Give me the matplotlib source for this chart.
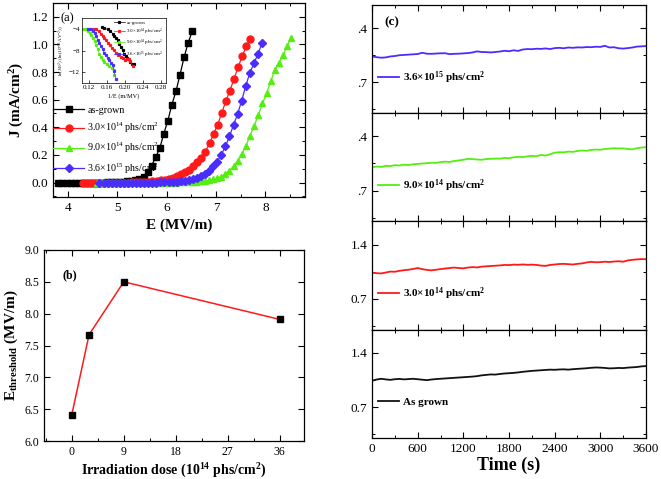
import numpy as np
import matplotlib
matplotlib.use("Agg")
import matplotlib.pyplot as plt
from matplotlib.ticker import MultipleLocator, FixedLocator

plt.rcParams["font.family"] = ["Liberation Serif", "DejaVu Serif"]
plt.rcParams["mathtext.default"] = "regular"
plt.rcParams["xtick.direction"] = "in"
plt.rcParams["ytick.direction"] = "in"
plt.rcParams["axes.linewidth"] = 0.9

# =========================
# data: (a) J-E curves
# =========================
E_GROWN_START, E_GROWN_STEP = 3.81, 0.082
J_grown = [0, 0, 0, 0, 0, 0, 0, 0, 0, 0, 0, 0, 0.001, 0.001, 0.002, 0.003,
           0.005, 0.008, 0.012, 0.018, 0.028, 0.043, 0.075, 0.123, 0.183,
           0.248, 0.352, 0.448, 0.564, 0.66, 0.78, 0.906, 1.01, 1.094]

E_R_START, E_R_STEP = 4.31, 0.0825
J_3e14 = [0, 0, 0, 0, 0, 0, 0, 0, 0, 0, 0, 0, 0.001, 0.002, 0.003, 0.004,
          0.006, 0.008, 0.011, 0.016, 0.021, 0.028, 0.036, 0.046, 0.060,
          0.075, 0.094, 0.116, 0.145, 0.178, 0.224, 0.284, 0.352, 0.419,
          0.504, 0.590, 0.665, 0.75, 0.834, 0.913, 0.986, 1.043]

E_G_START, E_G_STEP = 4.6, 0.0835
J_9e14 = [0] * 20 + [0.001, 0.002, 0.003, 0.004, 0.005, 0.008, 0.011, 0.015,
                     0.022, 0.031, 0.043, 0.063, 0.087, 0.118, 0.159, 0.208,
                     0.268, 0.34, 0.412, 0.49, 0.573, 0.646, 0.733, 0.817,
                     0.865, 0.925, 0.99, 1.05]

E_B_START, E_B_STEP = 4.64, 0.08225
J_36e14 = [0] * 15 + [0.001, 0.002, 0.003, 0.004, 0.006, 0.009, 0.013, 0.018,
                      0.025, 0.034, 0.046, 0.063, 0.085, 0.116, 0.152, 0.202,
                      0.262, 0.335, 0.417, 0.497, 0.593, 0.70, 0.793, 0.863,
                      0.93, 1.01]

# inset: FN plot
fn_x_grown = [0.150, 0.155, 0.162, 0.168, 0.174, 0.177, 0.181, 0.185, 0.188,
              0.192, 0.196, 0.199, 0.202, 0.205, 0.211, 0.216, 0.222]
fn_y_grown = [-3.69, -3.82, -4.12, -4.43, -4.92, -5.35, -5.66, -6.15, -6.77,
              -7.38, -7.99, -8.61, -9.04, -9.47, -10.09, -10.46, -10.58]
fn_x_3e14 = [0.124, 0.131, 0.136, 0.142, 0.148, 0.151, 0.155, 0.158, 0.162,
             0.167, 0.171, 0.176, 0.181, 0.186, 0.192, 0.197, 0.201, 0.206,
             0.209, 0.213, 0.218]
fn_y_3e14 = [-4.0, -4.0, -4.12, -4.43, -4.92, -5.29, -5.66, -6.09, -6.58,
             -7.01, -7.51, -7.94, -8.43, -8.86, -9.23, -9.47, -9.66, -9.53,
             -9.53, -9.96, -10.89]
fn_x_9e14 = [0.107, 0.114, 0.118, 0.122, 0.125, 0.129, 0.133, 0.136, 0.140,
             0.144, 0.147, 0.151, 0.155, 0.161, 0.166, 0.171, 0.176, 0.177]
fn_y_9e14 = [-4.12, -4.12, -4.31, -4.74, -5.17, -5.66, -6.28, -7.01, -7.81,
             -8.61, -9.23, -9.84, -10.09, -10.46, -10.89, -11.32, -11.69, -12.55]
fn_x_36e14 = [0.118, 0.125, 0.129, 0.133, 0.136, 0.140, 0.144, 0.147, 0.151,
              0.155, 0.159, 0.162, 0.166, 0.170, 0.174, 0.177, 0.180]
fn_y_36e14 = [-4.0, -4.0, -4.31, -4.74, -5.35, -5.97, -6.58, -7.20, -7.81,
              -8.43, -8.86, -9.35, -9.84, -10.27, -10.70, -11.81, -13.35]

# =========================
# data: (b) threshold field
# =========================
dose = [0, 3, 9, 36]
E_threshold = [6.41, 7.67, 8.50, 7.91]

# =========================
# data: (c) stability, one point per minute
# =========================
TIME_STEP = 60
J_t_36e14 = [1.035, 1.025, 1.018, 1.022, 1.034, 1.040, 1.050, 1.054, 1.058, 1.062,
             1.066, 1.082, 1.070, 1.068, 1.072, 1.075, 1.076, 1.064, 1.068, 1.070,
             1.074, 1.078, 1.086, 1.100, 1.092, 1.090, 1.086, 1.092, 1.098, 1.108,
             1.102, 1.114, 1.106, 1.124, 1.130, 1.128, 1.134, 1.132, 1.138, 1.130,
             1.142, 1.146, 1.140, 1.150, 1.146, 1.152, 1.150, 1.156, 1.154, 1.160,
             1.158, 1.172, 1.150, 1.154, 1.140, 1.136, 1.142, 1.150, 1.162, 1.165,
             1.168]
J_t_9e14 = [1.002, 1.010, 1.006, 1.020, 1.016, 1.028, 1.024, 1.034, 1.030, 1.040,
            1.044, 1.050, 1.054, 1.060, 1.058, 1.068, 1.074, 1.070, 1.082, 1.090,
            1.098, 1.110, 1.106, 1.102, 1.098, 1.108, 1.110, 1.114, 1.112, 1.122,
            1.118, 1.130, 1.136, 1.132, 1.142, 1.148, 1.144, 1.160, 1.152, 1.170,
            1.190, 1.196, 1.194, 1.204, 1.200, 1.212, 1.218, 1.214, 1.226, 1.230,
            1.228, 1.238, 1.242, 1.248, 1.244, 1.246, 1.238, 1.232, 1.248, 1.256,
            1.262]
J_t_3e14 = [1.038, 1.032, 1.028, 1.040, 1.052, 1.050, 1.062, 1.070, 1.076, 1.086,
            1.098, 1.084, 1.074, 1.068, 1.076, 1.084, 1.092, 1.098, 1.104, 1.098,
            1.094, 1.104, 1.110, 1.106, 1.116, 1.120, 1.124, 1.128, 1.132, 1.138,
            1.136, 1.142, 1.140, 1.144, 1.140, 1.142, 1.138, 1.130, 1.126, 1.138,
            1.144, 1.150, 1.152, 1.148, 1.144, 1.152, 1.158, 1.170, 1.178, 1.172,
            1.174, 1.180, 1.176, 1.182, 1.186, 1.180, 1.196, 1.204, 1.210, 1.214,
            1.212]
J_t_grown = [1.040, 1.056, 1.066, 1.058, 1.052, 1.060, 1.064, 1.058, 1.062, 1.066,
             1.060, 1.054, 1.048, 1.056, 1.062, 1.066, 1.070, 1.074, 1.078, 1.082,
             1.086, 1.090, 1.094, 1.100, 1.110, 1.116, 1.122, 1.120, 1.128, 1.134,
             1.138, 1.142, 1.148, 1.156, 1.162, 1.168, 1.172, 1.176, 1.180, 1.184,
             1.182, 1.186, 1.188, 1.184, 1.190, 1.194, 1.198, 1.202, 1.208, 1.212,
             1.210, 1.206, 1.200, 1.202, 1.206, 1.204, 1.210, 1.214, 1.218, 1.226,
             1.230]

BLACK = "#000000"
RED = "#ff1a1a"
GREEN = "#55ee11"
BLUE = "#4a2cff"

LBL_GROWN = "as-grown"
LBL_3E14 = "3.0×10$^{14}$ phs/cm$^{2}$"
LBL_9E14 = "9.0×10$^{14}$ phs/cm$^{2}$"
LBL_36E14 = "3.6×10$^{15}$ phs/cm$^{2}$"


def grid(start, step, n):
    return start + step * np.arange(n)


def all_ticks(ax):
    ax.tick_params(which="both", top=True, right=True)
    ax.tick_params(which="major", length=4, width=0.8)
    ax.tick_params(which="minor", length=2, width=0.7)


fig = plt.figure(figsize=(6.61, 4.79), dpi=100)

# ---------- (a) ----------
ax_a = fig.add_axes([0.0802, 0.5887, 0.3812, 0.405])
curves = [
    (E_GROWN_START, E_GROWN_STEP, J_grown, BLACK, "s", 4.2, LBL_GROWN),
    (E_R_START, E_R_STEP, J_3e14, RED, "o", 5, LBL_3E14),
    (E_G_START, E_G_STEP, J_9e14, GREEN, "^", 5, LBL_9E14),
    (E_B_START, E_B_STEP, J_36e14, BLUE, "D", 4, LBL_36E14),
]
for start, step, J, c, m, ms, lbl in curves:
    ax_a.plot(grid(start, step, len(J)), J, color=c, marker=m, markersize=ms,
              linewidth=0.9, label=lbl)
ax_a.set_xlim(3.7, 8.8)
ax_a.set_ylim(-0.105, 1.3)
ax_a.xaxis.set_major_locator(MultipleLocator(1))
ax_a.xaxis.set_minor_locator(MultipleLocator(0.5))
ax_a.yaxis.set_major_locator(MultipleLocator(0.2))
ax_a.yaxis.set_minor_locator(MultipleLocator(0.1))
ax_a.yaxis.set_major_formatter(plt.FormatStrFormatter("%.1f"))
all_ticks(ax_a)
ax_a.tick_params(labelsize=9.5)
ax_a.set_xlabel("E (MV/m)", fontsize=11, fontweight="bold", labelpad=3)
ax_a.set_ylabel("J (mA/cm$^{2}$)", fontsize=11, fontweight="bold", labelpad=4)
ax_a.legend(loc="center left", bbox_to_anchor=(-0.015, 0.29), frameon=False,
            fontsize=7.2, handlelength=3.1, handletextpad=0.3, labelspacing=0.6,
            borderaxespad=0)
ax_a.text(0.03, 0.95, "(a)", transform=ax_a.transAxes, fontsize=9,
          ha="left", va="top")

# inset
ax_in = fig.add_axes([0.124, 0.8267, 0.127, 0.1357])
fn_sets = [
    (fn_x_grown, fn_y_grown, BLACK, LBL_GROWN),
    (fn_x_3e14, fn_y_3e14, RED, LBL_3E14),
    (fn_x_9e14, fn_y_9e14, GREEN, LBL_9E14),
    (fn_x_36e14, fn_y_36e14, BLUE, LBL_36E14),
]
for fx, fy, c, lbl in fn_sets:
    ax_in.plot(fx, fy, color=c, marker="s", markersize=1.3, linewidth=0.5,
               label=lbl)
ax_in.set_xlim(0.105, 0.292)
ax_in.set_ylim(-14, -2)
ax_in.set_xticks([0.12, 0.16, 0.20, 0.24, 0.28])
ax_in.set_yticks([-4, -8, -12])
ax_in.tick_params(labelsize=5, length=2, width=0.5, pad=1.5)
for s in ax_in.spines.values():
    s.set_linewidth(0.5)
ax_in.set_xlabel("1/E (m/MV)", fontsize=4.5, labelpad=2.5)
ax_in.set_ylabel("ln(J/E$^{2}$) (ln(10$^{-11}$AV$^{-2}$))", fontsize=3.6,
                 labelpad=1)
ax_in.legend(loc="upper right", frameon=False, fontsize=3.6, handlelength=2.2,
             handletextpad=0.3, labelspacing=0.25, borderaxespad=0.1)

# ---------- (b) ----------
ax_b = fig.add_axes([0.0666, 0.0793, 0.3933, 0.3988])
ax_b.plot(dose, E_threshold, color=RED, linewidth=1.1, zorder=1)
ax_b.plot(dose, E_threshold, "s", color=BLACK, markersize=5, zorder=2)
ax_b.set_xlim(-4.8, 40.2)
ax_b.set_ylim(6.0, 9.0)
ax_b.xaxis.set_major_locator(MultipleLocator(9))
ax_b.xaxis.set_minor_locator(MultipleLocator(4.5))
ax_b.yaxis.set_major_locator(MultipleLocator(0.5))
ax_b.yaxis.set_major_formatter(plt.FormatStrFormatter("%.1f"))
all_ticks(ax_b)
ax_b.tick_params(labelsize=8.5)
ax_b.set_xlabel("Irradiation dose (10$^{14}$ phs/cm$^{2}$)", fontsize=10,
                fontweight="bold", labelpad=3)
ax_b.set_ylabel("E$_{threshold}$ (MV/m)", fontsize=11, fontweight="bold",
                labelpad=3)
ax_b.text(0.07, 0.9, "(b)", transform=ax_b.transAxes, fontsize=8.5,
          fontweight="bold", ha="left", va="top")

# ---------- (c) ----------
stab = [
    (J_t_36e14, BLUE, LBL_36E14, [".7", ".4"]),
    (J_t_9e14, GREEN, LBL_9E14, [".7", ".4"]),
    (J_t_3e14, RED, LBL_3E14, ["0.7", "1.4"]),
    (J_t_grown, "#111111", "As grown", ["0.7", "1.4"]),
]
top, bottom = 0.9896, 0.0856
h = (top - bottom) / len(stab)
for i, (J, c, lbl, ylabels) in enumerate(stab):
    ax = fig.add_axes([0.5628, top - (i + 1) * h, 0.4145, h])
    t = np.arange(len(J)) * TIME_STEP
    ax.plot(t, J, color=c, linewidth=1.3, label=lbl)
    ax.set_xlim(0, 3600)
    ax.set_ylim(0.3, 1.7)
    ax.xaxis.set_major_locator(MultipleLocator(600))
    ax.xaxis.set_minor_locator(MultipleLocator(300))
    ax.yaxis.set_major_locator(FixedLocator([0.7, 1.4]))
    ax.yaxis.set_minor_locator(FixedLocator([0.35, 1.05]))
    ax.set_yticklabels(ylabels)
    all_ticks(ax)
    ax.tick_params(labelsize=9.5)
    ax.legend(loc="center left", bbox_to_anchor=(0.0, 0.33),
              frameon=False, handlelength=1.9, handletextpad=0.3,
              borderaxespad=0.15, prop={"size": 8, "weight": "bold"})
    if i < len(stab) - 1:
        ax.tick_params(labelbottom=False)
    else:
        ax.set_xlabel("Time (s)", fontsize=13, fontweight="bold", labelpad=1)
    if i == 0:
        ax.text(0.045, 0.9, "(c)", transform=ax.transAxes, fontsize=9.5,
                fontweight="bold", ha="left", va="top")

fig.savefig("out.png", dpi=100)
